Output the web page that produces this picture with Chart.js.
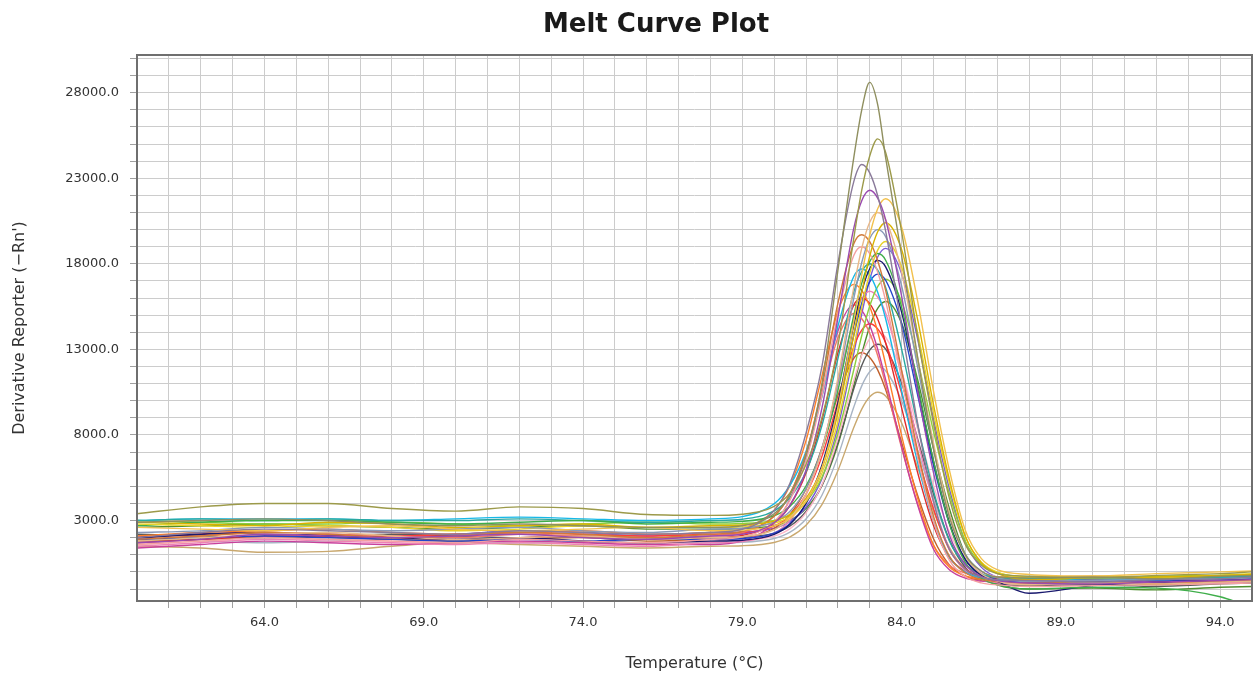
<!DOCTYPE html>
<html>
<head>
<meta charset="utf-8">
<title>Melt Curve Plot</title>
<script src="https://cdn.jsdelivr.net/npm/chart.js@4.4.1/dist/chart.umd.min.js"></script>
<style>
  html, body { margin: 0; padding: 0; background: #ffffff; }
  #wrap { width: 1257px; height: 679px; }
</style>
</head>
<body>
<div id="wrap"><canvas id="meltChart" width="1257" height="679"></canvas></div>
<script>
// temperature points (degrees C) shared by every well
const temperatures = [60, 62, 64, 66, 68, 70, 72, 74, 76, 78,
  79, 80, 80.5, 81, 81.5, 82, 82.5, 82.75, 83, 83.25, 83.5, 84, 84.5, 85, 85.5, 86, 86.5, 87,
  88, 90, 92, 94, 95];

// derivative reporter (-Rn') per well
const well01 = [2900, 3000, 3100, 3000, 2800, 2700, 2800, 2700, 2600, 2600,
  2700, 3400, 4500, 6800, 11000, 17600, 24200, 27000, 28600, 27300, 24200, 18500, 12600, 7200, 3200, 1000, 50, -300,
  -350, -300, -400, -250, -200];
const well02 = [3400, 3800, 4000, 4000, 3700, 3550, 3800, 3700, 3350, 3300,
  3370, 3830, 4620, 6270, 9000, 13200, 19500, 22300, 24300, 25300, 24500, 19900, 13800, 8700, 4300, 1600, 400, -100,
  -250, -350, -200, -100, 0];
const well03 = [2000, 2300, 2500, 2400, 2300, 2200, 2400, 2300, 2200, 2300,
  2490, 3590, 5200, 8100, 12000, 18000, 22800, 23800, 23310, 21980, 19910, 14320, 8730, 4120, 1320, 160, -310, -460,
  -500, -600, -450, -400, -300];
const well04 = [1700, 1900, 2200, 2100, 2000, 2100, 2200, 2000, 1900, 2100,
  2200, 2870, 3920, 5940, 9570, 14830, 20080, 21690, 22300, 21840, 20580, 16120, 10620, 5810, 2150, 430, -260, -510,
  -650, -700, -600, -500, -450];
const well05 = [2600, 2500, 2400, 2600, 2700, 2500, 2400, 2500, 2600, 2400,
  2440, 2690, 3140, 4150, 6090, 9580, 14620, 17340, 19670, 21220, 21800, 20150, 15860, 10580, 5960, 2440, 790, 130,
  -150, -250, -100, 0, 50];
const well06 = [1800, 2000, 2200, 2300, 2100, 1900, 2000, 2100, 1900, 2000,
  2060, 2460, 3140, 4570, 7130, 11310, 16630, 18910, 20430, 21000, 20570, 17530, 12540, 7550, 3420, 930, -110, -530,
  -750, -650, -700, -600, -550];
const well07 = [2900, 2800, 2700, 2900, 2800, 2600, 2700, 2800, 2600, 2700,
  2740, 2970, 3370, 4290, 6060, 9250, 13850, 16330, 18450, 19870, 20400, 18840, 14780, 9790, 5420, 2100, 540, -90,
  -450, -350, -300, -200, -150];
const well08 = [2300, 2400, 2600, 2500, 2400, 2500, 2600, 2400, 2300, 2500,
  2550, 2920, 3550, 4860, 7230, 11080, 15980, 18080, 19480, 20000, 19590, 16720, 12010, 7290, 3400, 1040, 50, -340,
  -550, -500, -450, -400, -350];
const well09 = [1900, 2100, 2300, 2200, 2000, 2100, 2300, 2200, 2000, 2200,
  2360, 3250, 4560, 6930, 10780, 15680, 19180, 19700, 19290, 18180, 16450, 11780, 7110, 3260, 920, -50, -440, -560,
  -650, -600, -700, -550, -500];
const well10 = [2800, 2700, 2600, 2700, 2600, 2400, 2500, 2700, 2600, 2600,
  2630, 2850, 3230, 4100, 5770, 8780, 13120, 15460, 17460, 18800, 19300, 17830, 14010, 9300, 5190, 2050, 580, -10,
  -300, -250, -350, -200, -100];
const well11 = [1600, 1800, 2000, 1900, 1800, 1700, 1900, 1800, 1700, 1900,
  2050, 2930, 4210, 6520, 10280, 15070, 18490, 19000, 18600, 17520, 15830, 11280, 6720, 2960, 690, -270, -640, -760,
  -850, -800, -750, -700, -650];
const well12 = [2700, 2900, 3000, 3000, 2900, 2800, 2900, 3000, 2800, 2900,
  2950, 3280, 3840, 5020, 7140, 10590, 14990, 16870, 18130, 18600, 18210, 15480, 10990, 6510, 2810, 560, -370, -740,
  -1000, -900, -950, -1450, -2100];
const well13 = [2000, 2200, 2300, 2100, 2000, 1900, 2000, 1800, 1700, 1800,
  1850, 2190, 2780, 4010, 6230, 9840, 14430, 16400, 17710, 18200, 17820, 15180, 10830, 6480, 2890, 720, -190, -550,
  -1250, -800, -600, -500, -450];
const well14 = [3000, 3100, 3000, 3100, 3000, 3000, 3100, 3000, 2900, 3000,
  3080, 3570, 4350, 5850, 8550, 12450, 16350, 17550, 18000, 17630, 16620, 13030, 8620, 4750, 1810, 430, -120, -330,
  -400, -300, -350, -300, -250];
const well15 = [3000, 3100, 3100, 3100, 3000, 3100, 3200, 3100, 3000, 3100,
  3230, 3980, 5070, 7040, 10250, 14340, 17260, 17700, 17340, 16340, 14790, 10600, 6420, 2960, 870, -10, -350, -460,
  -500, -400, -450, -350, -300];
const well16 = [1900, 2000, 2100, 2000, 1900, 1800, 1900, 1800, 1900, 1900,
  1950, 2270, 2830, 3990, 6090, 9500, 13840, 15700, 16940, 17400, 17040, 14520, 10380, 6240, 2820, 750, -110, -460,
  -600, -550, -500, -450, -400];
const well17 = [3000, 2900, 2800, 2800, 2900, 2800, 2700, 2800, 2900, 2800,
  2830, 3010, 3340, 4090, 5520, 8090, 11810, 13810, 15530, 16670, 17100, 15800, 12400, 8230, 4570, 1790, 480, -40,
  -300, -350, -250, -200, -150];
const well18 = [2100, 2300, 2400, 2500, 2300, 2200, 2300, 2400, 2200, 2300,
  2520, 3610, 5060, 7670, 11440, 15210, 16800, 16450, 15500, 14030, 12130, 7980, 4340, 1580, 280, -240, -430, -490,
  -550, -500, -450, -500, -400];
const well19 = [1500, 1700, 1900, 1800, 1700, 1600, 1700, 1600, 1500, 1700,
  1770, 2260, 3020, 4490, 7140, 10960, 14780, 15960, 16400, 16060, 15120, 11780, 7680, 4090, 1350, 70, -440, -630,
  -700, -650, -600, -650, -550];
const well20 = [1700, 1900, 2100, 2100, 2000, 1900, 2000, 2100, 1900, 2000,
  2130, 2840, 3890, 5780, 8860, 12780, 15580, 16000, 15670, 14770, 13380, 9600, 5830, 2720, 830, 40, -270, -370,
  -400, -450, -350, -300, -250];
const well21 = [1400, 1600, 1800, 1700, 1600, 1700, 1800, 1700, 1600, 1600,
  1810, 2860, 4260, 6780, 10420, 14060, 15600, 15280, 14390, 13010, 11230, 7340, 3940, 1340, 130, -360, -540, -590,
  -600, -650, -550, -500, -450];
const well22 = [1900, 2100, 2300, 2200, 2100, 2000, 2200, 2100, 2000, 2100,
  2300, 3270, 4570, 6910, 10290, 13670, 15100, 14790, 13950, 12640, 10940, 7250, 4010, 1550, 390, -70, -240, -290,
  -300, -250, -350, -250, -200];
const well23 = [2000, 2200, 2300, 2200, 2100, 2200, 2300, 2200, 2100, 2200,
  2260, 2670, 3310, 4540, 6750, 9950, 13150, 14130, 14500, 14200, 13380, 10450, 6850, 3700, 1300, 180, -280, -440,
  -500, -450, -550, -400, -350];
const well24 = [1600, 1800, 1900, 1900, 1800, 1700, 1800, 1700, 1600, 1800,
  1840, 2090, 2530, 3450, 5090, 7780, 11190, 12660, 13630, 14000, 13710, 11700, 8380, 5070, 2340, 680, -10, -280,
  -400, -350, -450, -350, -300];
const well25 = [2200, 2100, 2000, 2100, 2200, 2100, 2000, 2100, 2000, 2000,
  2030, 2270, 2680, 3530, 5050, 7540, 10700, 12060, 12960, 13300, 13020, 11040, 7800, 4560, 1880, 260, -420, -690,
  -800, -750, -850, -700, -650];
const well26 = [1800, 1900, 2000, 2000, 1900, 1800, 1900, 2000, 1800, 1900,
  2000, 2550, 3370, 4840, 7240, 10290, 12470, 12800, 12530, 11800, 10660, 7570, 4490, 1950, 410, -240, -490, -570,
  -600, -550, -650, -500, -450];
const well27 = [1900, 1800, 1700, 1800, 1900, 1800, 1700, 1800, 1700, 1700,
  1730, 1950, 2320, 3090, 4480, 6750, 9630, 10870, 11690, 12000, 11750, 10000, 7130, 4250, 1880, 440, -160, -400,
  -500, -450, -500, -400, -350];
const well28 = [1500, 1400, 1150, 1200, 1500, 1700, 1600, 1500, 1400, 1500,
  1530, 1720, 2040, 2720, 3930, 5910, 8430, 9510, 10230, 10500, 10280, 8710, 6130, 3560, 1430, 140, -400, -610,
  -700, -650, -750, -600, -550];
const well29 = [2100, 2200, 2300, 2200, 2100, 2200, 2400, 2300, 2100, 2300,
  2330, 2550, 2930, 3790, 5450, 8440, 12760, 15080, 17070, 18400, 18900, 17440, 13640, 8960, 4860, 1740, 280, -310,
  -650, -700, -600, -550, -500];
const well30 = [2600, 2700, 2800, 2700, 2600, 2500, 2600, 2700, 2500, 2500,
  2530, 2700, 3010, 3700, 5030, 7420, 10880, 12740, 14340, 15400, 15800, 14540, 11260, 7230, 3700, 1020, -240, -750,
  -1000, -950, -1050, -900, -850];

const wellColors = [
  '#8f8f5f', '#9c9a4a', '#8a7a9a', '#9a4ab0', '#f2c14e', '#e8b88a', '#d9b300', '#8898b8', '#d07a3a', '#e6d22a',
  '#f4a0a0', '#3fae4a', '#1a1a6e', '#2aa8a0', '#16b8e8', '#2244cc', '#8ccf3c', '#ff7f27', '#ee82b4', '#e02a2a',
  '#c8409c', '#f07868', '#ff3b3b', '#ffb6c8', '#5a5a5a', '#c0602c', '#a8b4c4', '#c9a86e', '#7b5cd6', '#4f8f2f'
];

const xTickLabels = [64, 69, 74, 79, 84, 89, 94];
const yTickLabels = [3000, 8000, 13000, 18000, 23000, 28000];

const gridColor = '#cccccc';
const textColor = '#333333';

Chart.defaults.font.family = '"DejaVu Sans", Verdana, sans-serif';

function gridTicks(from, to, step) {
  const ticks = [];
  for (let v = from; v <= to; v += step) {
    ticks.push({ value: v });
  }
  return ticks;
}

// plot frame + big title
const frameAndTitle = {
  id: 'frameAndTitle',
  afterDraw(chart) {
    const { ctx, chartArea } = chart;
    ctx.save();
    ctx.strokeStyle = '#6f6f6f';
    ctx.lineWidth = 2;
    ctx.strokeRect(chartArea.left, chartArea.top, chartArea.right - chartArea.left, chartArea.bottom - chartArea.top);
    ctx.fillStyle = '#1a1a1a';
    ctx.font = 'bold 26px "DejaVu Sans"';
    ctx.textAlign = 'center';
    ctx.textBaseline = 'middle';
    ctx.fillText('Melt Curve Plot', 656, 25);
    ctx.restore();
  }
};

function render_melt_chart(canvas_id) {
  const wells = [well01, well02, well03, well04, well05, well06, well07, well08, well09, well10,
    well11, well12, well13, well14, well15, well16, well17, well18, well19, well20,
    well21, well22, well23, well24, well25, well26, well27, well28, well29, well30];

  const datasets = wells.map((values, i) => ({
    data: values.map((v, j) => ({ x: temperatures[j], y: v })),
    borderColor: wellColors[i],
    borderWidth: 1.4,
    pointRadius: 0,
    fill: false,
    cubicInterpolationMode: 'monotone'
  }));

  const ctx = document.getElementById(canvas_id).getContext('2d');
  return new Chart(ctx, {
    type: 'line',
    data: { datasets: datasets },
    options: {
      responsive: false,
      animation: false,
      layout: { padding: { top: 55, right: 5, bottom: 0, left: 0 } },
      plugins: {
        legend: { display: false },
        tooltip: { enabled: false },
        title: { display: false }
      },
      scales: {
        x: {
          type: 'linear',
          min: 60,
          max: 95,
          afterBuildTicks: scale => { scale.ticks = gridTicks(61, 94, 1); },
          afterFit: scale => { scale.height = 78; },
          border: { display: false },
          grid: { color: gridColor, tickColor: '#a0a0a0', tickLength: 7 },
          ticks: {
            autoSkip: false,
            maxRotation: 0,
            padding: 7,
            color: textColor,
            font: { size: 13 },
            callback: value => xTickLabels.includes(value) ? value.toFixed(1) : ''
          },
          title: {
            display: true,
            text: 'Temperature (°C)',
            color: textColor,
            font: { size: 16 },
            padding: { top: 0, bottom: 6 }
          }
        },
        y: {
          min: -1700,
          max: 30200,
          afterBuildTicks: scale => { scale.ticks = gridTicks(-1000, 30000, 1000); },
          afterFit: scale => { scale.width = 137; },
          border: { display: false },
          grid: { color: gridColor, tickColor: '#a0a0a0', tickLength: 7 },
          ticks: {
            autoSkip: false,
            padding: 11,
            color: textColor,
            font: { size: 13 },
            callback: value => yTickLabels.includes(value) ? value.toFixed(1) : ''
          },
          title: {
            display: true,
            text: "Derivative Reporter (\u2212Rn')",
            color: textColor,
            font: { size: 16 },
            padding: { top: 10, bottom: 0 }
          }
        }
      }
    },
    plugins: [frameAndTitle]
  });
}

render_melt_chart('meltChart');
</script>
</body>
</html>
